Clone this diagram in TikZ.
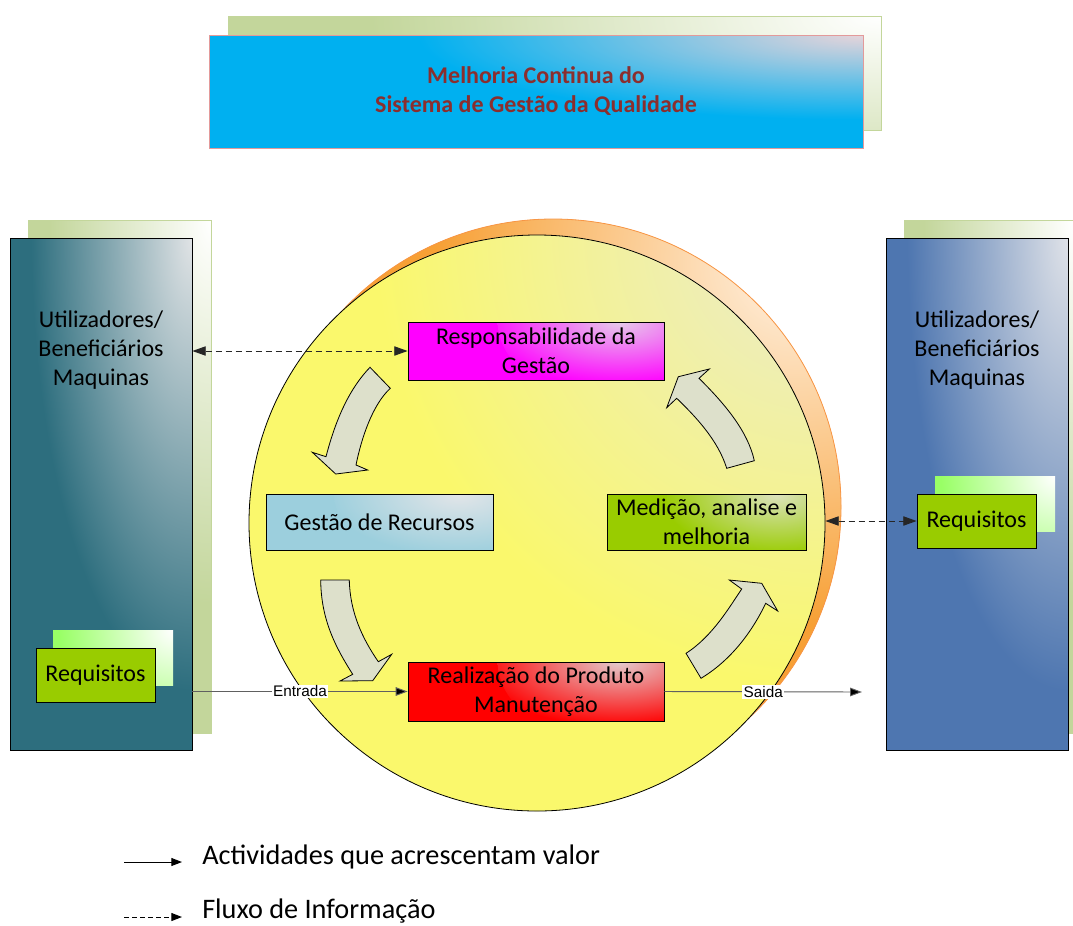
\documentclass[tikz,border=0pt]{standalone}
\usepackage{fontspec}
\setmainfont{Carlito}
\newfontfamily\arialfont{Liberation Sans}
\usetikzlibrary{arrows.meta,calc}
\definecolor{titlegreen}{HTML}{C3D69B}
\definecolor{titlecyan}{HTML}{00B0F0}
\definecolor{titlehl}{HTML}{E6D4DA}
\definecolor{titlered}{HTML}{8B2E2E}
\definecolor{titleborder}{HTML}{E39A9A}
\definecolor{tealbase}{HTML}{2D6E7E}
\definecolor{tealhl}{HTML}{E0E3E5}
\definecolor{bluebase}{HTML}{4E76B0}
\definecolor{bluehl}{HTML}{DFE2E8}
\definecolor{reqgreen}{HTML}{99CC00}
\definecolor{reqback}{HTML}{99FF66}
\definecolor{magbase}{HTML}{FF00FF}
\definecolor{maghl}{HTML}{E6CAEA}
\definecolor{lbbase}{HTML}{9CCFDD}
\definecolor{lbhl}{HTML}{E2E5E8}
\definecolor{medbase}{HTML}{99CC00}
\definecolor{medhl}{HTML}{DCE2BE}
\definecolor{redbase}{HTML}{FF0000}
\definecolor{redhl}{HTML}{E4CACC}
\definecolor{yelbase}{HTML}{FAF86C}
\definecolor{yelhl}{HTML}{EAEACF}
\definecolor{orabase}{HTML}{F7A035}
\definecolor{orahl}{HTML}{FFF3E6}
\definecolor{oraborder}{HTML}{F79646}
\definecolor{arrowfill}{HTML}{DDE0CB}
\definecolor{linegray}{HTML}{606060}
% radial highlight shadings: the light colour in the middle, the base colour at the rim
\pgfdeclareradialshading{shTitleBack}{\pgfpointorigin}{color(0bp)=(white); color(17bp)=(titlegreen); color(50bp)=(titlegreen)}
\pgfdeclareradialshading{shTitleFront}{\pgfpointorigin}{color(0bp)=(titlehl); color(17bp)=(titlecyan); color(50bp)=(titlecyan)}
\pgfdeclareradialshading{shTeal}{\pgfpointorigin}{color(0bp)=(tealhl); color(17bp)=(tealbase); color(50bp)=(tealbase)}
\pgfdeclareradialshading{shBlue}{\pgfpointorigin}{color(0bp)=(bluehl); color(17bp)=(bluebase); color(50bp)=(bluebase)}
\pgfdeclareradialshading{shReqBack}{\pgfpointorigin}{color(0bp)=(white); color(17bp)=(reqback); color(50bp)=(reqback)}
\pgfdeclareradialshading{shMag}{\pgfpointorigin}{color(0bp)=(maghl); color(17bp)=(magbase); color(50bp)=(magbase)}
\pgfdeclareradialshading{shLB}{\pgfpointorigin}{color(0bp)=(lbhl); color(17bp)=(lbbase); color(50bp)=(lbbase)}
\pgfdeclareradialshading{shMed}{\pgfpointorigin}{color(0bp)=(medhl); color(17bp)=(medbase); color(50bp)=(medbase)}
\pgfdeclareradialshading{shRed}{\pgfpointorigin}{color(0bp)=(redhl); color(17bp)=(redbase); color(50bp)=(redbase)}
\pgfdeclareradialshading{shYel}{\pgfpointorigin}{color(0bp)=(yelhl); color(17bp)=(yelbase); color(50bp)=(yelbase)}
\pgfdeclareradialshading{shOra}{\pgfpointorigin}{color(0bp)=(orahl); color(17bp)=(orabase); color(50bp)=(orabase)}
\begin{document}
\begin{tikzpicture}[x=0.75pt,y=-0.75pt,
  hl/.style n args={4}{fill=#1, path picture={
     \path[shading=#2]
       let \p1=($(path picture bounding box.north east)-(path picture bounding box.south west)$) in
       (path picture bounding box.north east) ellipse [x radius={#3*\x1}, y radius={#4*\y1}];
     }},
  box/.style={draw=black, line width=0.6pt, inner sep=0pt, align=center,
     font=\fontsize{18}{21.75}\selectfont, text=black},
  backbox/.style={inner sep=0pt},
  plain/.style={inner sep=0pt, align=center, font=\fontsize{18}{21.75}\selectfont, text=black},
  cyclearrow/.style={draw=black, line width=0.6pt, fill=arrowfill, line join=miter},
  infoflow/.style={draw=black!85, line width=0.7pt, dash pattern=on 4.5pt off 3pt,
     {Triangle[length=10pt,width=7pt]}-{Triangle[length=10pt,width=7pt]}},
  valueflow/.style={draw=linegray, line width=0.7pt, -{Triangle[length=9pt,width=6.5pt,fill=black]}},
  flowlabel/.style={fill=white, inner sep=1pt, font=\arialfont\fontsize{11.5}{12}\selectfont, text=black},
  legendtext/.style={anchor=west, inner sep=0pt, font=\fontsize{21.2}{25}\selectfont, text=black},
]
\useasboundingbox (0,0) rectangle (1073,925);

% ---------- title ----------
\node[backbox, draw=titlegreen, line width=0.5pt, hl={titlegreen}{shTitleBack}{1.15}{2.6},
      minimum width=489.75pt, minimum height=85.5pt] (titleback) at (554.5,73) {};
\node[draw=titleborder, line width=0.6pt, inner sep=0pt, hl={titlecyan}{shTitleFront}{1.0}{1.1},
      minimum width=490.5pt, minimum height=84.75pt] (titlefront) at (536,91.5) {};
\node[align=center, inner sep=0pt, font=\bfseries\fontsize{18}{21.75}\selectfont, text=titlered]
      (title) at (536,91) {Melhoria Continua do\\Sistema de Gestão da Qualidade};

% ---------- side panels ----------
\node[backbox, draw=titlegreen, line width=0.5pt, hl={titlegreen}{shTitleBack}{1.3}{1.1},
      minimum width=137.25pt, minimum height=384.75pt] (leftback) at (119.5,476.5) {};
\node[box, hl={tealbase}{shTeal}{1.3}{1.3},
      minimum width=136.5pt, minimum height=384pt] (leftfront) at (101,494) {};
\node[plain] (lefttext) at (101,350) {Utilizadores/\\Beneficiários\\Maquinas};

\node[backbox, draw=titlegreen, line width=0.5pt, hl={titlegreen}{shTitleBack}{1.3}{1.1},
      minimum width=126.75pt, minimum height=384.75pt] (rightback) at (988.5,476.5) {};
\node[box, hl={bluebase}{shBlue}{1.3}{1.3},
      minimum width=136.5pt, minimum height=384pt] (rightfront) at (977,494) {};
\node[plain] (righttext) at (977,350) {Utilizadores/\\Beneficiários\\Maquinas};

% requisitos
\node[backbox, hl={reqback}{shReqBack}{1.4}{3}, minimum width=90pt, minimum height=41.25pt]
      (reqLback) at (113,657.5) {};
\node[box, fill=reqgreen, minimum width=89.25pt, minimum height=40.5pt] (reqL) at (95.5,675) {Requisitos};
\node[backbox, hl={reqback}{shReqBack}{1.4}{3}, minimum width=90pt, minimum height=41.25pt]
      (reqRback) at (995,503.5) {};
\node[box, fill=reqgreen, minimum width=89.25pt, minimum height=40.5pt] (reqR) at (976.5,521) {Requisitos};

% ---------- circle ----------
\node[circle, draw=oraborder, line width=0.6pt, inner sep=0pt, minimum size=432pt,
      hl={orabase}{shOra}{0.85}{0.85}] (orangecircle) at (553,507) {};
\node[circle, draw=black, line width=0.6pt, inner sep=0pt, minimum size=432pt,
      hl={yelbase}{shYel}{1.15}{1.15}] (yellowcircle) at (537,523) {};

% ---------- process boxes ----------
\node[box, hl={magbase}{shMag}{0.65}{1.6}, minimum width=192pt, minimum height=43.5pt]
      (resp) at (536,351) {Responsabilidade da\\Gestão};
\node[box, hl={lbbase}{shLB}{0.7}{1.6}, minimum width=170.25pt, minimum height=42pt]
      (gestao) at (379.5,522) {Gestão de Recursos};
\node[box, hl={medbase}{shMed}{0.7}{1.6}, minimum width=149.25pt, minimum height=42pt]
      (medicao) at (706.5,522) {Medição, analise e\\melhoria};
\node[box, hl={redbase}{shRed}{0.65}{1.6}, minimum width=192pt, minimum height=44.25pt]
      (realiz) at (536,691.5) {Realização do Produto\\Manutenção};

% ---------- cycle arrows ----------
\draw[cyclearrow] (370,367.3) -- (390.3,388.3)
   .. controls (372,405) and (361,440) .. (356,465)
   -- (367.7,470) -- (335.7,474) -- (312.3,452.3) -- (326,456.7)
   .. controls (336,418) and (350,388) .. cycle;
\draw[cyclearrow] (320.7,580) -- (349.3,580)
   .. controls (350,612) and (362,638) .. (378.3,661.7)
   -- (391.7,654.3) -- (372.7,680.7) -- (340,681) -- (352.7,674.3)
   .. controls (336,648) and (321,620) .. cycle;
\draw[cyclearrow] (686,653.3) -- (701,678.3)
   .. controls (728,662) and (750,636) .. (765.7,603.3)
   -- (777.7,611) -- (761.7,583.3) -- (729.3,580) -- (741.7,589)
   .. controls (730,606) and (713,636) .. cycle;
\draw[cyclearrow] (726.7,468.3) -- (754.3,460.7)
   .. controls (748,432) and (726,405) .. (699,378.3)
   -- (709.3,369) -- (678.3,376.7) -- (666.7,407.7) -- (676.7,398.3)
   .. controls (695,416) and (718,440) .. cycle;

% ---------- connectors ----------
\draw[infoflow] (leftfront.east |- resp.west) -- (resp.west);
\draw[infoflow] (reqR.west -| yellowcircle.east) -- (reqR.west);
\draw[valueflow] (leftfront.east |- realiz.west) -- node[flowlabel] {Entrada} (realiz.west);
\coordinate (saidaend) at (862,692);
\draw[valueflow] (realiz.east) -- node[flowlabel] {Saida} (saidaend);

% ---------- legend ----------
\coordinate (leg1a) at (124,862);
\coordinate (leg1b) at (182,862);
\coordinate (leg2a) at (124,917);
\coordinate (leg2b) at (182,917);
\draw[draw=black, line width=0.7pt, -{Triangle[length=8pt,width=6pt]}] (leg1a) -- (leg1b);
\draw[draw=black, line width=0.7pt, dash pattern=on 3.5pt off 2.5pt, -{Triangle[length=8pt,width=6pt]}] (leg2a) -- (leg2b);
\node[legendtext] (leg1text) at (202,857) {Actividades que acrescentam valor};
\node[legendtext] (leg2text) at (202,911) {Fluxo de Informação};
\end{tikzpicture}
\end{document}
